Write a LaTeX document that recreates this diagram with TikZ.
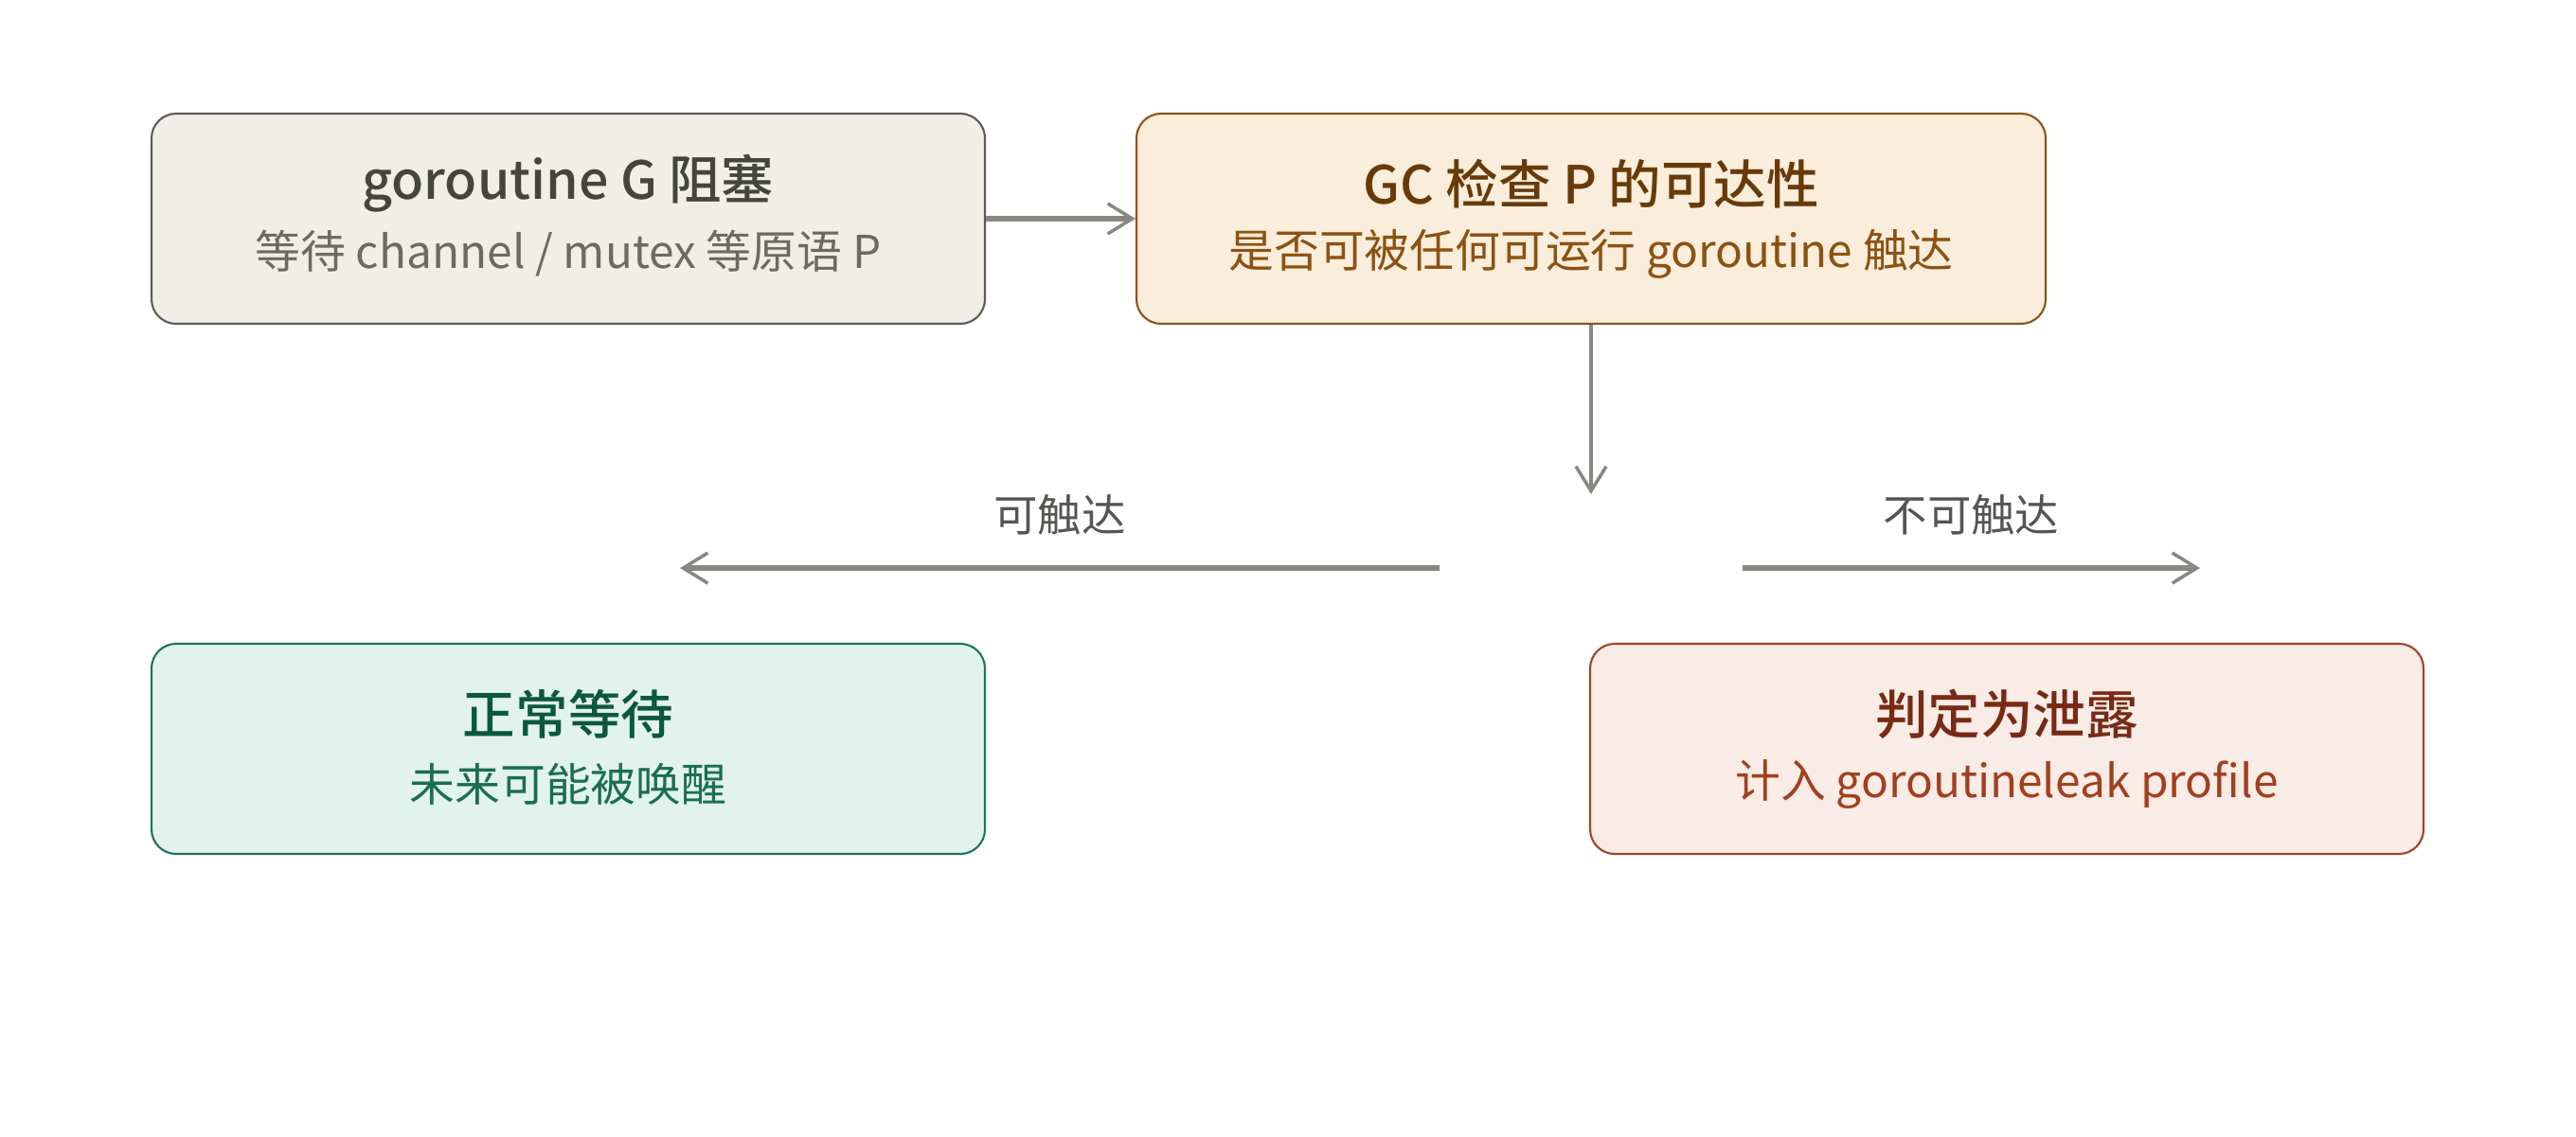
\documentclass[tikz,border=0pt]{standalone}
\usepackage{fontspec}
\setmainfont{Noto Sans CJK SC}[BoldFont={Noto Sans CJK SC Medium}]
\usetikzlibrary{arrows.meta}

\definecolor{greyfill}{HTML}{F1EEE8}
\definecolor{greyline}{HTML}{5C5C57}
\definecolor{greytitle}{HTML}{45453F}
\definecolor{greysub}{HTML}{6B6B66}
\definecolor{sandfill}{HTML}{FAEDDB}
\definecolor{sandline}{HTML}{8A5518}
\definecolor{sandtitle}{HTML}{683A08}
\definecolor{sandsub}{HTML}{8C5212}
\definecolor{mintfill}{HTML}{E1F3EC}
\definecolor{mintline}{HTML}{1E7456}
\definecolor{minttitle}{HTML}{0C5740}
\definecolor{mintsub}{HTML}{1B6E50}
\definecolor{rosefill}{HTML}{F9EBE5}
\definecolor{roseline}{HTML}{A0442A}
\definecolor{rosetitle}{HTML}{782A14}
\definecolor{rosesub}{HTML}{A23F1E}
\definecolor{arrowgrey}{HTML}{888883}
\definecolor{lblgrey}{HTML}{555552}

\tikzset{
  box/.style={draw, rounded corners=0.26cm, line width=0.6pt,
    minimum width=8.8cm, minimum height=2.22cm},
  title/.style={font=\fontsize{15.8}{18}\selectfont\bfseries},
  sub/.style={font=\fontsize{13.6}{16}\selectfont},
  lbl/.style={font=\fontsize{13.2}{16}\selectfont, text=lblgrey},
  flow/.style={draw=arrowgrey, line width=1.6pt,
    -{Straight Barb[length=0.26cm,width=0.32cm,line width=1pt]}}
}

\begin{document}
\begin{tikzpicture}
\useasboundingbox (0,0) rectangle (27.2,12);

% blocked goroutine
\node[box, draw=greyline, fill=greyfill] (block) at (6.0,9.69) {};
\node[title, text=greytitle] (blocktitle) at ([yshift=0.37cm]block.center) {goroutine G 阻塞};
\node[sub, text=greysub] (blocksub) at ([yshift=-0.37cm]block.center) {等待 channel / mutex 等原语 P};

% GC check
\node[box, minimum width=9.6cm, draw=sandline, fill=sandfill] (check) at (16.8,9.69) {};
\node[title, text=sandtitle] (checktitle) at ([yshift=0.37cm]check.center) {GC 检查 P 的可达性};
\node[sub, text=sandsub] (checksub) at ([yshift=-0.37cm]check.center) {是否可被任何可运行 goroutine 触达};

% outcomes
\node[box, draw=mintline, fill=mintfill] (normal) at (6.0,4.09) {};
\node[title, text=minttitle] (normaltitle) at ([yshift=0.37cm]normal.center) {正常等待};
\node[sub, text=mintsub] (normalsub) at ([yshift=-0.37cm]normal.center) {未来可能被唤醒};

\node[box, draw=roseline, fill=rosefill] (leak) at (21.19,4.09) {};
\node[title, text=rosetitle] (leaktitle) at ([yshift=0.37cm]leak.center) {判定为泄露};
\node[sub, text=rosesub] (leaksub) at ([yshift=-0.37cm]leak.center) {计入 goroutineleak profile};

% connectors
\coordinate (fork) at (16.8,6.78);
\coordinate (lstart) at (15.2,6.0);  \coordinate (lend) at (7.18,6.0);
\coordinate (rstart) at (18.4,6.0);  \coordinate (rend) at (23.23,6.0);

\draw[flow] (block.east) -- (check.west);
\draw[flow, line width=1.1pt] (check.south) -- (fork);
\draw[flow] (lstart) -- node[lbl, above=0.2cm] (reachlbl) {可触达} (lend);
\draw[flow] (rstart) -- node[lbl, above=0.2cm] (unreachlbl) {不可触达} (rend);
\end{tikzpicture}
\end{document}
